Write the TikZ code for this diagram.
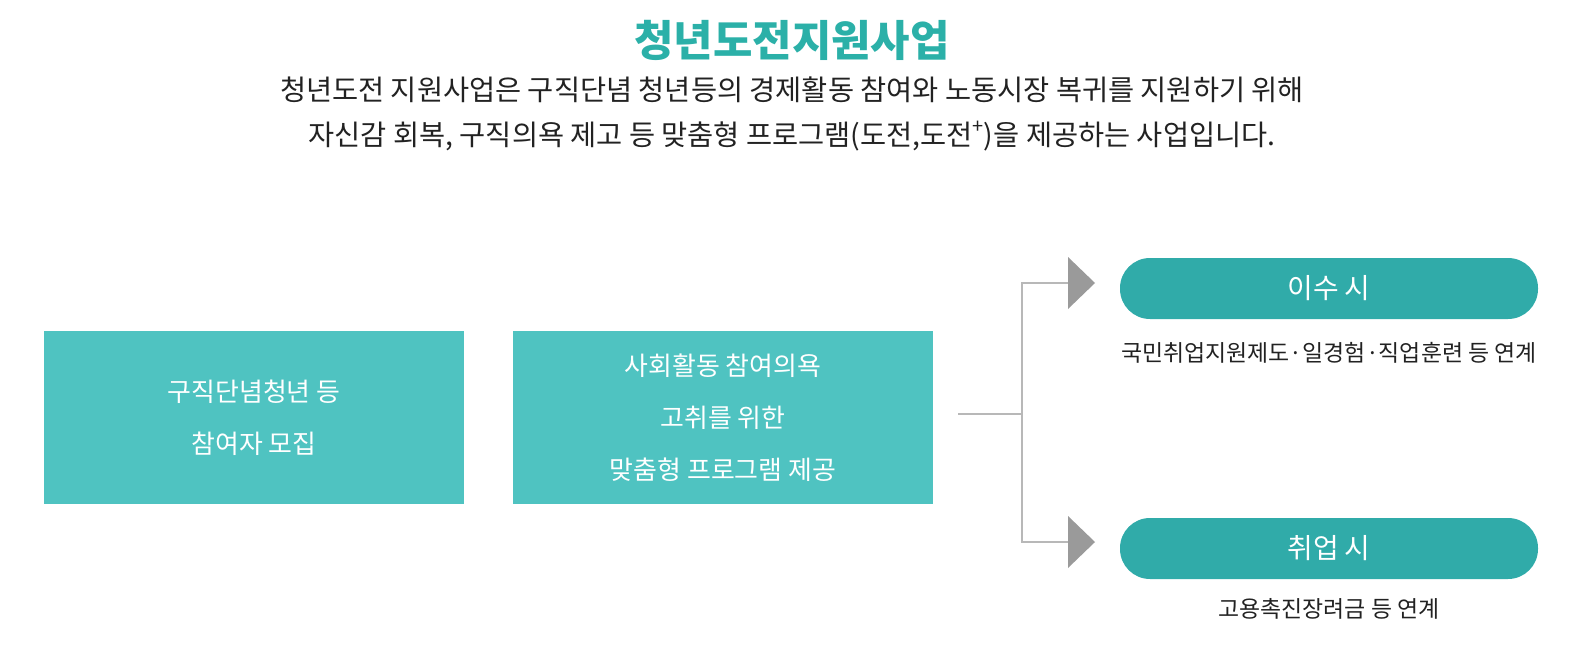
\documentclass[tikz,border=0pt]{standalone}
\usepackage{fontspec}
\setmainfont{Noto Sans CJK KR}
\definecolor{tealbox}{HTML}{4FC3C1}
\definecolor{tealpill}{HTML}{30ABA9}
\definecolor{titleteal}{HTML}{2BB0A8}
\definecolor{linegray}{HTML}{B8B8B8}
\definecolor{arrgray}{HTML}{9A9A9A}
\definecolor{txt}{HTML}{222222}
\begin{document}
\begin{tikzpicture}[x=1bp,y=-1bp,
  box/.style={fill=tealbox,minimum width=420bp,minimum height=173bp,text=white,align=center,font=\fontsize{26}{52}\selectfont},
  pill/.style={fill=tealpill,rounded corners=30bp,minimum width=418bp,minimum height=61bp,text=white,font=\fontsize{28}{32}\selectfont},
  note/.style={text=txt,font=\fontsize{23}{28}\selectfont},
  conn/.style={draw=linegray,line width=1.5bp},
  tri/.style={fill=arrgray}]
\useasboundingbox (0,0) rectangle (1585,662);
\node[text=titleteal,font=\fontsize{43}{50}\selectfont\bfseries] (title) at (792,40) {청년도전지원사업};
\node[text=txt,font=\fontsize{28.5}{34}\selectfont] (l1) at (792,90) {청년도전 지원사업은 구직단념 청년등의 경제활동 참여와 노동시장 복귀를 지원하기 위해};
\node[text=txt,font=\fontsize{28.5}{34}\selectfont] (l2) at (792,136) {자신감 회복, 구직의욕 제고 등 맞춤형 프로그램(도전,도전\raisebox{0.45em}{\fontsize{20}{20}\selectfont +})을 제공하는 사업입니다.};
\node[box] (b1) at (254,417.5) {구직단념청년 등\\참여자 모집};
\node[box] (b2) at (723,417.5) {사회활동 참여의욕\\고취를 위한\\맞춤형 프로그램 제공};
\node[pill] (p1) at (1329,288.5) {이수 시};
\node[pill] (p2) at (1329,548.5) {취업 시};
\node[note] (n1) at (1329,353) {국민취업지원제도·일경험·직업훈련 등 연계};
\node[note] (n2) at (1329,609) {고용촉진장려금 등 연계};
\coordinate (s) at (958,414);
\coordinate (j) at (1022,414);
\coordinate (t1) at (1068,283);
\coordinate (t2) at (1068,542);
\draw[conn] (s) -- (j);
\draw[conn] (t1) -| (j) |- (t2);
\fill[tri] (1068,257) -- (1095,283) -- (1068,309) -- cycle;
\fill[tri] (1068,516) -- (1095,542) -- (1068,568) -- cycle;
\end{tikzpicture}
\end{document}
